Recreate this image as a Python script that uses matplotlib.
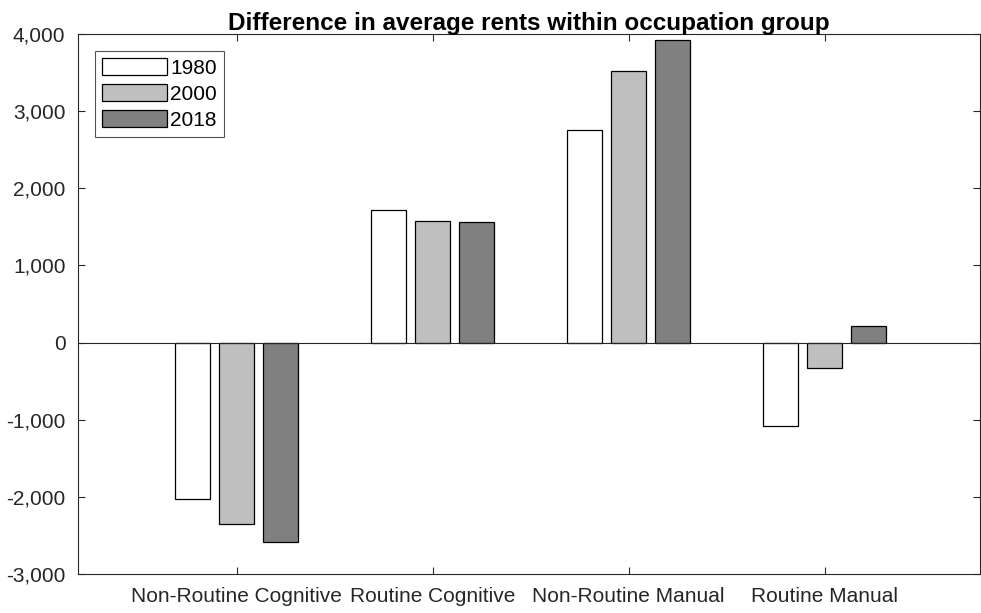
import numpy as np
import matplotlib.pyplot as plt
from matplotlib.ticker import FuncFormatter

plt.rcParams['font.family'] = ['Liberation Sans', 'DejaVu Sans']

groups = ['Non-Routine Cognitive', 'Routine Cognitive', 'Non-Routine Manual', 'Routine Manual']
years = ['1980', '2000', '2018']
rent_1980 = [-2030, 1720, 2755, -1080]
rent_2000 = [-2350, 1578, 3520, -330]
rent_2018 = [-2590, 1565, 3925, 215]
colors = ['#ffffff', '#bfbfbf', '#808080']

fig = plt.figure(figsize=(9.81, 6.13), dpi=100)
ax = fig.add_axes([0.0795, 0.0636, 0.919, 0.881])

x = np.arange(1, len(groups) + 1)
w = 0.178
step = 0.224
for i, (vals, c, lab) in enumerate(zip([rent_1980, rent_2000, rent_2018], colors, years)):
    ax.bar(x + (i - 1) * step, vals, width=w, color=c, edgecolor='black',
           linewidth=0.9, label=lab, zorder=2)

ax.axhline(0, color='#262626', linewidth=0.8, zorder=3)

ax.set_xlim(0.19, 4.79)
ax.set_ylim(-3000, 4000)
ax.set_xticks(x)
ax.set_xticklabels(groups)
ax.set_yticks(np.arange(-3000, 4001, 1000))
ax.yaxis.set_major_formatter(FuncFormatter(lambda v, p: f'{int(v):,}'))

for s in ax.spines.values():
    s.set_color('#262626')
    s.set_linewidth(0.8)
ax.tick_params(direction='in', length=5, width=0.8, color='#262626',
               top=True, right=True, labelsize=15, labelcolor='#262626')
ax.tick_params(axis='x', pad=9)
ax.tick_params(axis='y', pad=9)

ax.set_title('Difference in average rents within occupation group',
             fontsize=17.5, fontweight='bold', pad=3)

leg = ax.legend(loc='upper left', bbox_to_anchor=(0.019, 0.969), fontsize=15,
                frameon=True, fancybox=False, edgecolor='#262626',
                handlelength=3.1, handleheight=0.9, handletextpad=0.15,
                labelspacing=0.3, borderpad=0.35, borderaxespad=0)
leg.get_frame().set_linewidth(0.8)

fig.savefig('out.png', dpi=100)
